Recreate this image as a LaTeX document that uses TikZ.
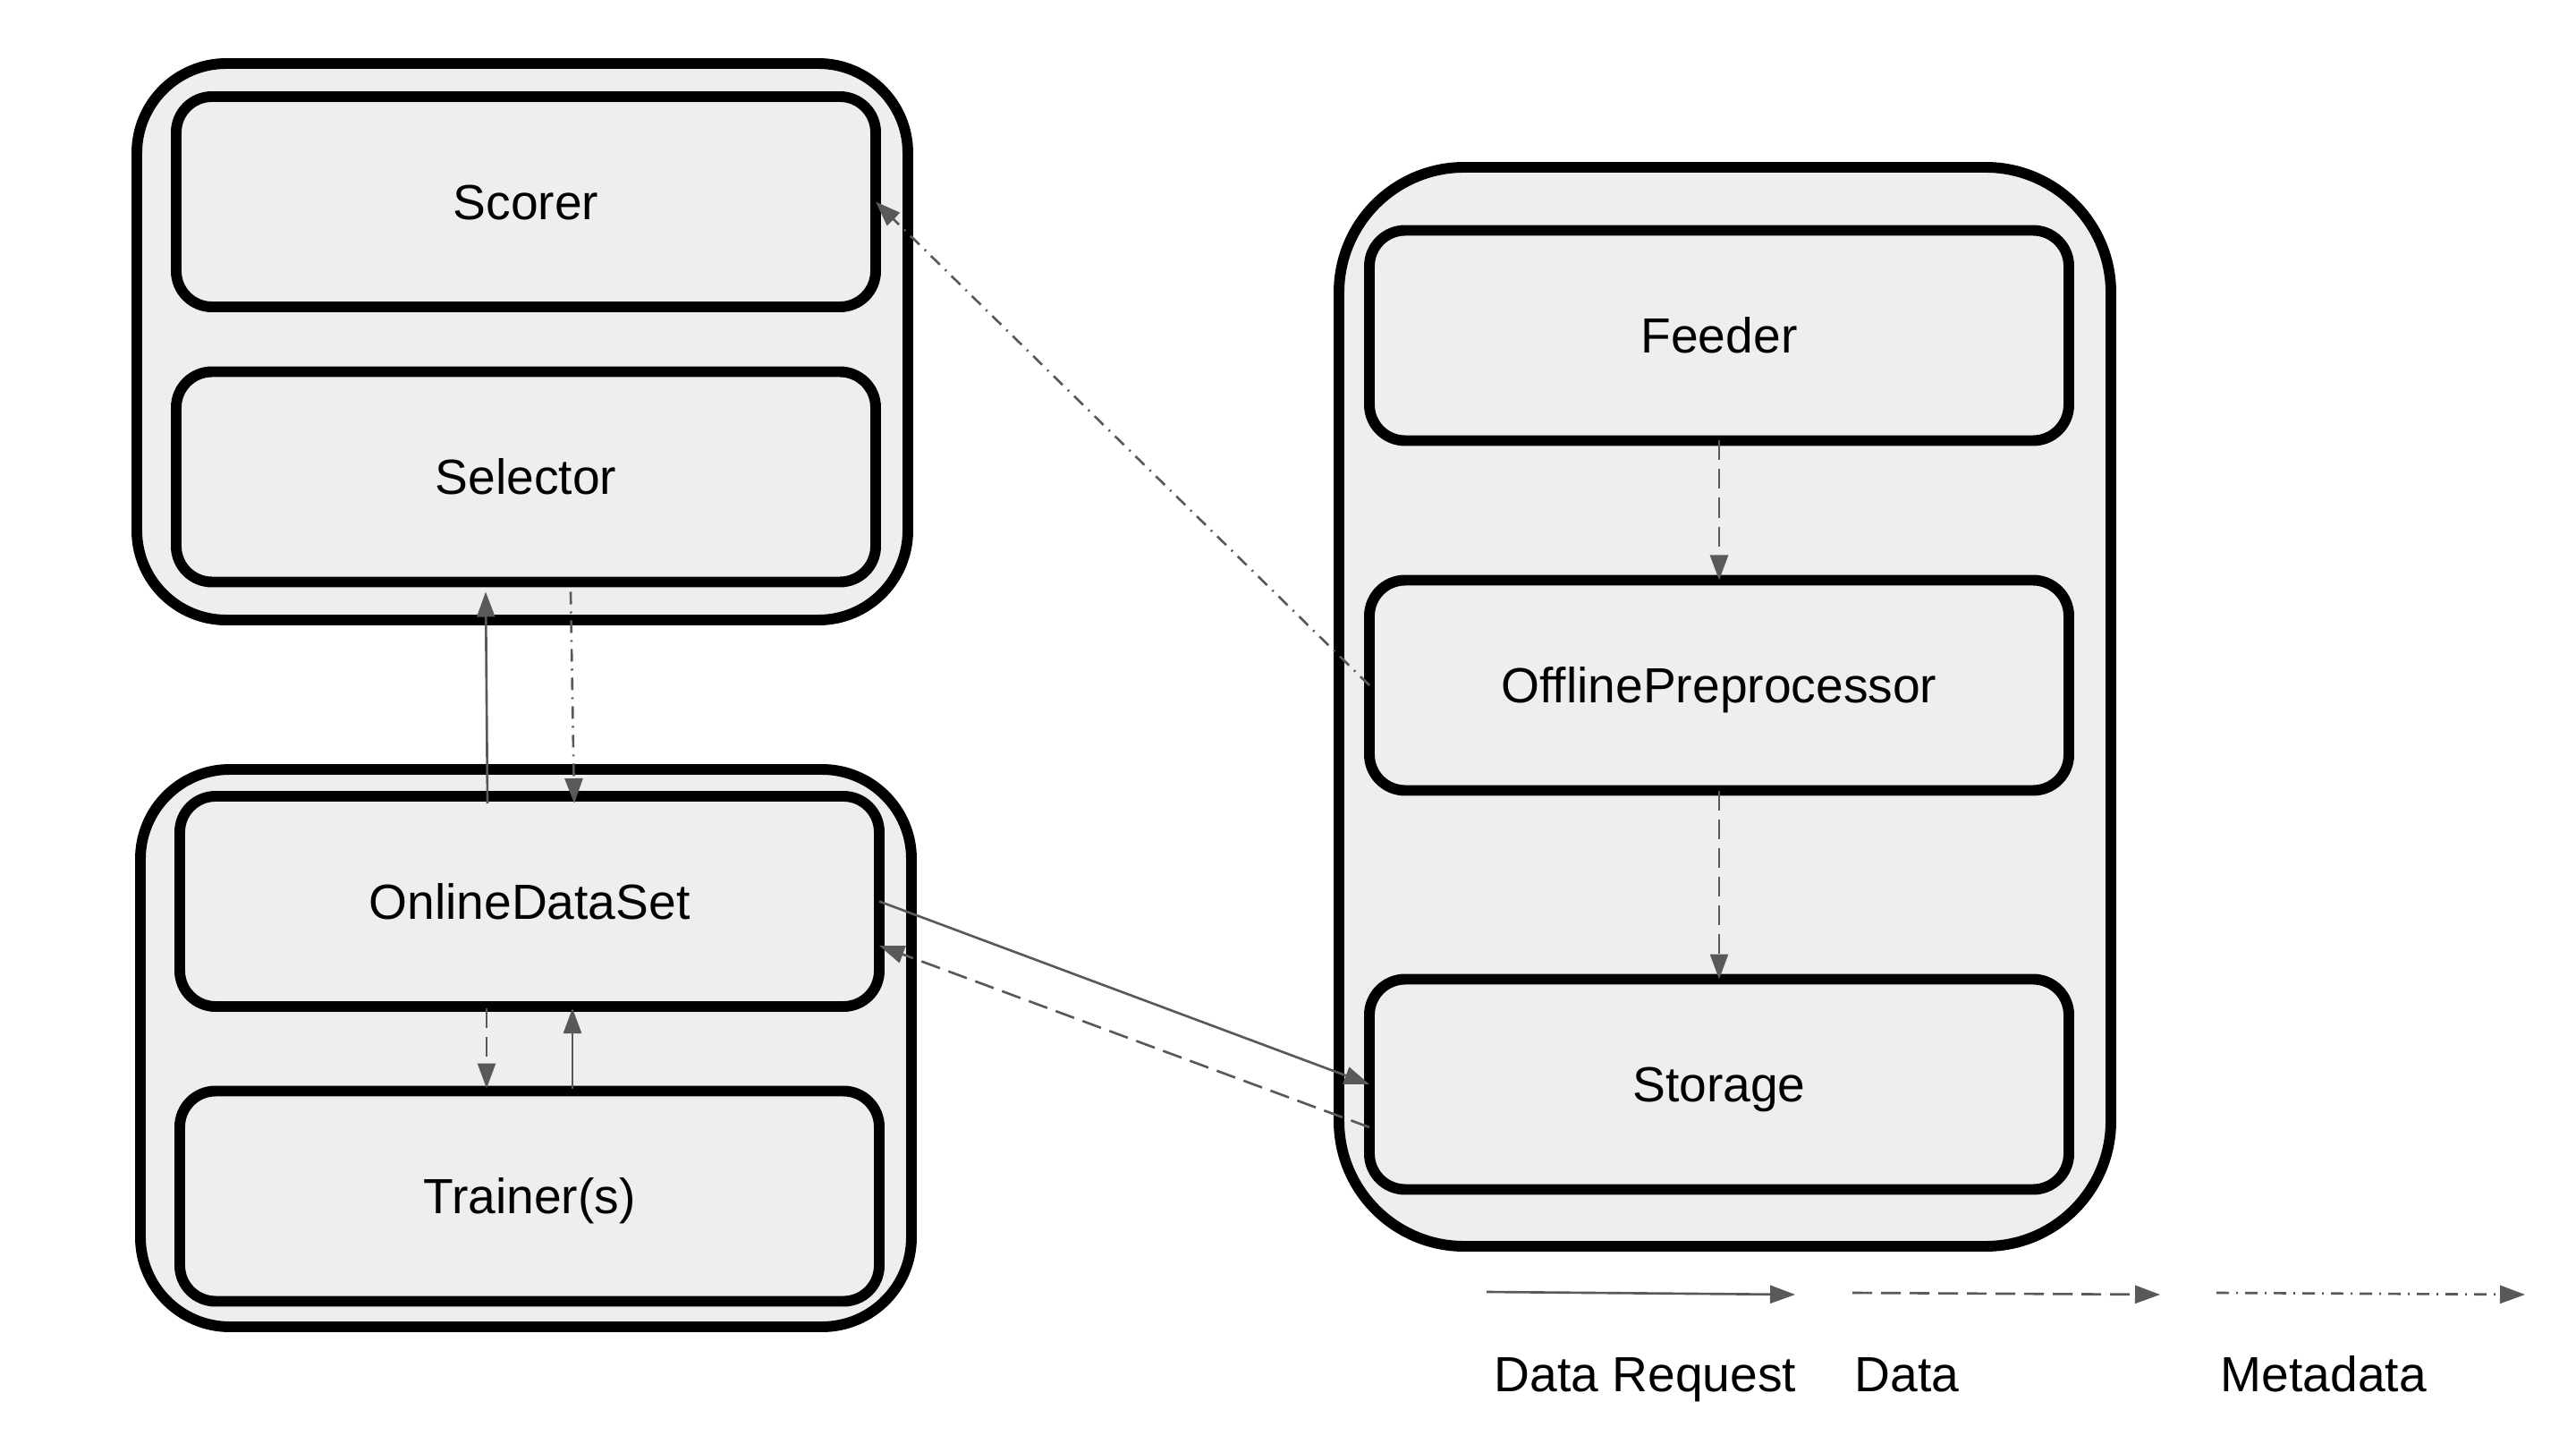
\documentclass[tikz,border=0pt]{standalone}
\usepackage{fontspec}
\setmainfont{Liberation Sans}[Ligatures=NoCommon]
\usetikzlibrary{arrows.meta}
\definecolor{boxgray}{HTML}{EEEEEE}
\definecolor{arrowgray}{HTML}{595959}

\begin{document}
\begin{tikzpicture}[
    group/.style={draw=black,fill=boxgray,line width=3.4pt,rounded corners=1cm,inner sep=0pt,outer sep=0pt},
    box/.style={draw=black,fill=boxgray,line width=3.4pt,rounded corners=0.4cm,minimum width=7.82cm,minimum height=2.35cm,
                inner sep=0pt,outer sep=0pt,font=\fontsize{15.7}{18}\selectfont,text height=11.3pt,text depth=0pt},
    flow/.style={draw=arrowgray,line width=0.75pt,-{Triangle[length=0.28cm,width=0.2cm]}},
    dreq/.style={flow},
    dflow/.style={flow,dash pattern=on 0.22cm off 0.1cm},
    mflow/.style={flow,dash pattern=on 0.14cm off 0.08cm on 0.02cm off 0.08cm},
    legend/.style={anchor=base west,inner sep=0pt,font=\fontsize{15.7}{18}\selectfont}]
    \useasboundingbox (0,0) rectangle (28.8,-16.14);

    % Groups
    \node[group,minimum width=8.62cm,minimum height=6.22cm] (scoregroup) at (5.84,-3.82) {};
    \node[group,minimum width=8.62cm,minimum height=6.23cm] (traingroup) at (5.88,-11.715) {};
    \node[group,rounded corners=1.4cm,minimum width=8.63cm,minimum height=12.06cm] (offgroup) at (19.285,-7.90) {};

    \node[box] (scorer)   at (5.88,-2.255)  {Scorer};
    \node[box] (selector) at (5.88,-5.33)   {Selector};
    \node[box] (ods)      at (5.92,-10.075) {OnlineDataSet};
    \node[box] (trainer)  at (5.92,-13.37)  {Trainer(s)};
    \node[box] (feeder)   at (19.22,-3.75)  {Feeder};
    \node[box] (offline)  at (19.22,-7.66)  {OfflinePreprocessor};
    \node[box] (storage)  at (19.22,-12.12) {Storage};

    % Flows
    \draw[dreq]  ([xshift=-0.47cm,yshift=-0.08cm]ods.north) -- ([xshift=-0.45cm,yshift=-0.11cm]selector.south);
    \draw[mflow] ([xshift=0.5cm,yshift=-0.11cm]selector.south) -- ([xshift=0.5cm,yshift=-0.08cm]ods.north);
    \draw[dflow] ([xshift=-0.48cm,yshift=-0.02cm]ods.south) -- ([xshift=-0.48cm,yshift=0.03cm]trainer.north);
    \draw[dreq]  ([xshift=0.48cm,yshift=0.03cm]trainer.north) -- ([xshift=0.48cm,yshift=-0.02cm]ods.south);
    \draw[dreq]  (ods.east) -- (storage.west);
    \draw[dflow] ([yshift=-0.48cm]storage.west) -- ([yshift=-0.495cm]ods.east);
    \draw[mflow] (offline.west) -- (scorer.east);
    \draw[dflow] (feeder.south) -- (offline.north);
    \draw[dflow] (offline.south) -- (storage.north);

    % Legend
    \coordinate (reqa)  at (16.62,-14.44);
    \coordinate (reqb)  at (20.07,-14.47);
    \coordinate (data)  at (20.71,-14.45);
    \coordinate (datb)  at (24.15,-14.47);
    \coordinate (meta)  at (24.78,-14.45);
    \coordinate (metb)  at (28.23,-14.47);
    \draw[dreq]  (reqa) -- (reqb);
    \draw[dflow] (data) -- (datb);
    \draw[mflow] (meta) -- (metb);
    \node[legend] (reqlabel)  at (16.70,-15.55) {Data Request};
    \node[legend] (datlabel)  at (20.73,-15.55) {Data};
    \node[legend] (metlabel)  at (24.82,-15.55) {Metadata};
\end{tikzpicture}
\end{document}
